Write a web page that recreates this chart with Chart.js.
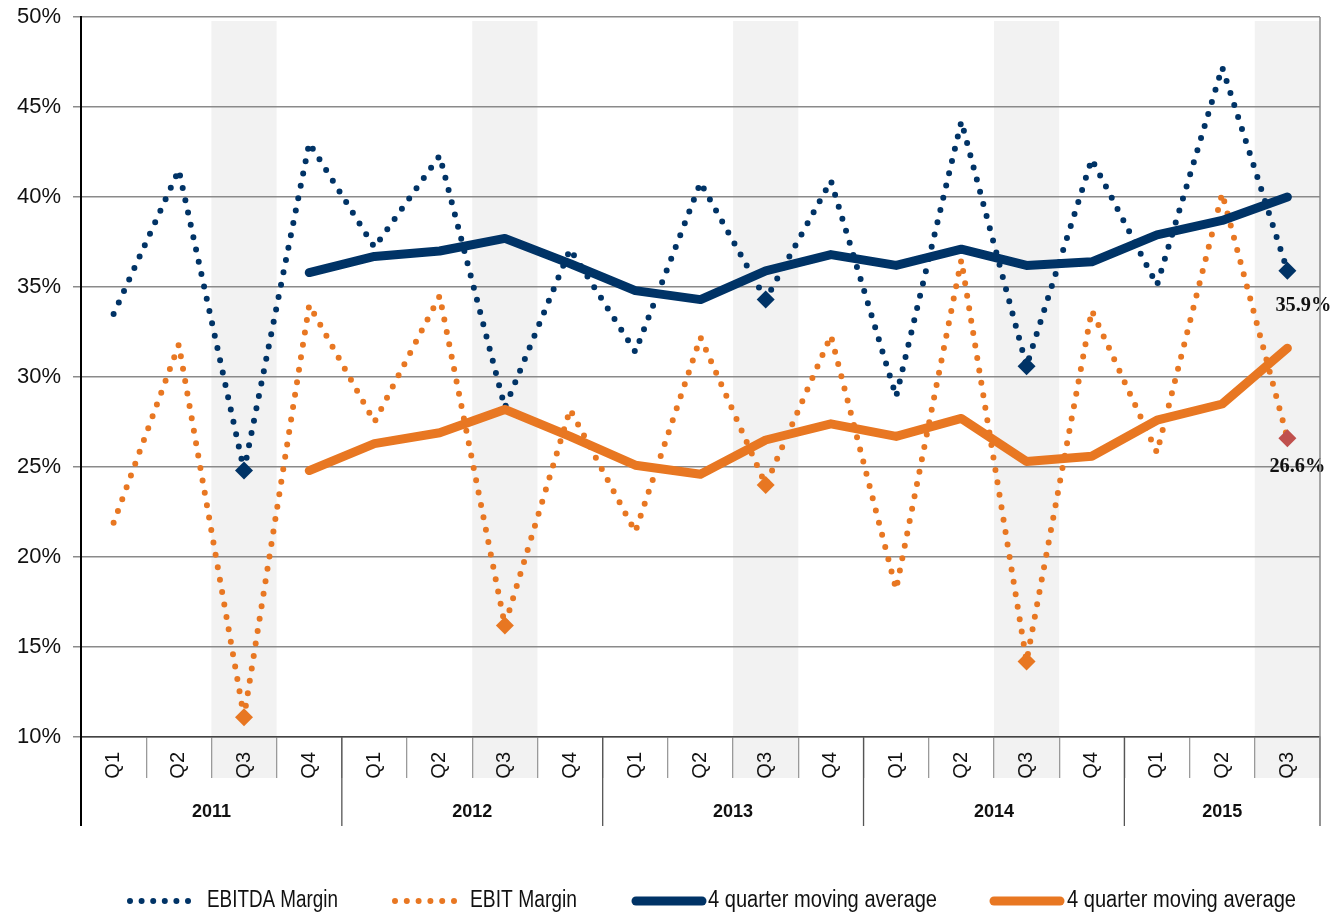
<!DOCTYPE html>
<html>
<head>
<meta charset="utf-8">
<script src="https://cdn.jsdelivr.net/npm/chart.js@4.4.0/dist/chart.umd.min.js"></script>
<style>
  html, body { margin: 0; padding: 0; background: #ffffff; }
  #wrap { width: 1334px; height: 914px; position: relative; }
</style>
</head>
<body>
<div id="wrap"><canvas id="chart" width="1334" height="914"></canvas></div>
<script>
// Quarterly margins, 2011 Q1 – 2015 Q3 (percent)
const quarters = ['Q1','Q2','Q3','Q4','Q1','Q2','Q3','Q4','Q1','Q2','Q3','Q4','Q1','Q2','Q3','Q4','Q1','Q2','Q3'];
const years = ['2011', '2012', '2013', '2014', '2015'];
const quartersPerYear = [4, 4, 4, 4, 3];

const ebitdaMargin = [33.5, 41.5, 24.8, 43.0, 37.2, 42.3, 28.3, 37.1, 31.4, 40.8, 34.3, 40.9, 28.9, 44.2, 30.6, 42.1, 35.1, 47.2, 35.9];
const ebitMargin   = [21.9, 31.8, 11.1, 34.0, 27.5, 34.5, 16.2, 28.2, 21.4, 32.2, 24.0, 32.3, 18.2, 36.5, 14.2, 33.7, 25.8, 40.2, 26.6];
const ebitdaMovingAvg = [null, null, null, 35.8, 36.7, 37.0, 37.7, 36.3, 34.8, 34.3, 35.9, 36.8, 36.2, 37.1, 36.2, 36.4, 37.9, 38.7, 40.0];
const ebitMovingAvg   = [null, null, null, 24.8, 26.3, 26.9, 28.2, 26.7, 25.1, 24.6, 26.5, 27.4, 26.7, 27.7, 25.3, 25.6, 27.6, 28.5, 31.6];

// Points highlighted with a diamond marker
const ebitdaMarked = [2, 10, 14, 18];
const ebitMarked = [2, 6, 10, 14, 18];

const seriesNames = ['EBITDA Margin', 'EBIT Margin', '4 quarter moving average', '4 quarter moving average'];
const yMin = 10, yMax = 50, yStep = 5;

const NAVY = '#003366';
const ORANGE = '#e87722';
const RED = '#c0504d';
const SHADE = '#f2f2f2';

const markerRadius = (list) => (ctx) => list.includes(ctx.dataIndex) ? 9 : 0;
const lastIndex = quarters.length - 1;

// Light bands behind every Q3 column, reaching into the quarter label row
const q3Bands = {
  id: 'q3Bands',
  beforeDraw(chart) {
    const { ctx, chartArea, scales: { x } } = chart;
    const half = (x.getPixelForValue(1) - x.getPixelForValue(0)) / 2;
    ctx.save();
    ctx.fillStyle = SHADE;
    quarters.forEach((q, i) => {
      if (q !== 'Q3') return;
      const cx = x.getPixelForValue(i);
      ctx.fillRect(cx - half, chartArea.top + 4, half * 2, x.top + 41 - chartArea.top - 4);
    });
    ctx.restore();
  }
};

// Year row under the quarter labels, plus frame lines
const yearAxis = {
  id: 'yearAxis',
  afterDraw(chart) {
    const { ctx, chartArea, scales: { x } } = chart;
    const half = (x.getPixelForValue(1) - x.getPixelForValue(0)) / 2;
    const rowBottom = x.top + 89;
    ctx.save();
    // right frame of the plot
    ctx.strokeStyle = '#8a8a8a';
    ctx.lineWidth = 1.5;
    ctx.beginPath();
    ctx.moveTo(chartArea.right, chartArea.top);
    ctx.lineTo(chartArea.right, rowBottom);
    ctx.stroke();
    let start = 0;
    ctx.font = 'bold 18px "Liberation Sans", Arial, sans-serif';
    ctx.fillStyle = '#111';
    ctx.textAlign = 'center';
    ctx.textBaseline = 'middle';
    const edges = [x.getPixelForValue(0) - half];
    years.forEach((yr, k) => {
      const end = start + quartersPerYear[k] - 1;
      const left = x.getPixelForValue(start) - half;
      const right = x.getPixelForValue(end) + half;
      edges.push(right);
      ctx.fillText(yr, (left + right) / 2, x.top + 75);
      start = end + 1;
    });
    edges.forEach((ex, k) => {
      ctx.strokeStyle = k === 0 ? '#000' : (k === edges.length - 1 ? '#8a8a8a' : '#555');
      ctx.lineWidth = k === 0 ? 2 : 1.3;
      ctx.beginPath();
      ctx.moveTo(ex, x.top);
      ctx.lineTo(ex, rowBottom);
      ctx.stroke();
    });
    ctx.restore();
  }
};

// Value labels for the latest quarter
const latestLabels = {
  id: 'latestLabels',
  afterDatasetsDraw(chart) {
    const { ctx, scales: { x, y } } = chart;
    const px = x.getPixelForValue(lastIndex);
    const items = [
      { v: ebitdaMargin[lastIndex], dx: 16, dy: 35 },
      { v: ebitMargin[lastIndex], dx: 10, dy: 28 }
    ];
    ctx.save();
    ctx.font = 'bold 21px "Liberation Serif", "DejaVu Serif", serif';
    ctx.fillStyle = '#111';
    ctx.textAlign = 'center';
    ctx.textBaseline = 'middle';
    items.forEach(it => ctx.fillText(it.v.toFixed(1) + '%', px + it.dx, y.getPixelForValue(it.v) + it.dy, 56));
    ctx.restore();
  }
};

// Legend row with line samples in each series' own stroke style
const legendRow = {
  id: 'legendRow',
  afterDraw(chart) {
    const { ctx } = chart;
    const rowY = 901;
    const layout = [
      { x0: 130, x1: 199, tx: 207, w: 131, dash: [0, 11.6] },
      { x0: 395, x1: 455, tx: 470, w: 107, dash: [0, 11.8] },
      { x0: 636, x1: 702, tx: 708, w: 229, dash: [] },
      { x0: 994, x1: 1060, tx: 1067, w: 229, dash: [] }
    ];
    ctx.save();
    chart.data.datasets.forEach((ds, i) => {
      const L = layout[i];
      ctx.strokeStyle = ds.borderColor;
      ctx.lineWidth = ds.borderWidth;
      ctx.lineCap = 'round';
      ctx.setLineDash(L.dash);
      ctx.beginPath();
      ctx.moveTo(L.x0, rowY);
      ctx.lineTo(L.x1, rowY);
      ctx.stroke();
      ctx.setLineDash([]);
      ctx.font = '23px "Liberation Sans", Arial, sans-serif';
      ctx.fillStyle = '#111';
      ctx.textAlign = 'left';
      ctx.textBaseline = 'middle';
      // narrow setting: squeeze each caption into its column width
      ctx.fillText(ds.label, L.tx, rowY, L.w);
    });
    ctx.restore();
  }
};

const dottedSeries = (label, data, color, marked, markerColor) => ({
  type: 'line',
  label,
  data,
  borderColor: color,
  backgroundColor: color,
  borderWidth: 6,
  borderDash: [0, 12.6],
  borderCapStyle: 'round',
  borderJoinStyle: 'round',
  tension: 0,
  pointStyle: 'rectRot',
  pointRadius: markerRadius(marked),
  pointHoverRadius: markerRadius(marked),
  pointBackgroundColor: markerColor,
  pointBorderWidth: 0,
  clip: false,
  order: 1
});

const solidSeries = (label, data, color) => ({
  type: 'line',
  label,
  data,
  borderColor: color,
  backgroundColor: color,
  borderWidth: 9,
  borderCapStyle: 'round',
  borderJoinStyle: 'round',
  tension: 0,
  pointRadius: 0,
  pointHoverRadius: 0,
  clip: false,
  order: 0
});

new Chart(document.getElementById('chart'), {
  type: 'line',
  data: {
    labels: quarters,
    datasets: [
      dottedSeries(seriesNames[0], ebitdaMargin, NAVY, ebitdaMarked,
        ebitdaMargin.map(() => NAVY)),
      dottedSeries(seriesNames[1], ebitMargin, ORANGE, ebitMarked,
        ebitMargin.map((v, i) => i === lastIndex ? RED : ORANGE)),
      solidSeries(seriesNames[2], ebitdaMovingAvg, NAVY),
      solidSeries(seriesNames[3], ebitMovingAvg, ORANGE)
    ]
  },
  options: {
    responsive: false,
    devicePixelRatio: 1,
    animation: false,
    events: [],
    layout: { padding: { top: 17, right: 14, bottom: 88, left: 0 } },
    plugins: {
      legend: { display: false },
      tooltip: { enabled: false }
    },
    scales: {
      x: {
        type: 'category',
        offset: true,
        grid: {
          offset: true,
          drawOnChartArea: false,
          drawTicks: true,
          tickLength: 41,
          color: '#9a9a9a',
          lineWidth: 1.3
        },
        border: { display: true, color: '#444', width: 1.5 },
        ticks: {
          autoSkip: false,
          minRotation: 90,
          maxRotation: 90,
          padding: -26,
          color: '#111',
          font: { family: '"Liberation Sans", Arial, sans-serif', size: 20 }
        },
        afterFit(scale) { scale.height = 89; }
      },
      y: {
        min: yMin,
        max: yMax,
        grid: {
          color: '#8a8a8a',
          lineWidth: 1.5,
          drawTicks: true,
          tickLength: 8
        },
        border: { display: true, color: '#000', width: 2 },
        ticks: {
          stepSize: yStep,
          padding: 12,
          color: '#111',
          font: { family: '"Liberation Sans", Arial, sans-serif', size: 22 },
          callback: (v) => v + '%'
        },
        afterFit(scale) {
          scale.width = 81;
          scale.paddingTop = 0;
          scale.paddingBottom = 0;
        }
      }
    }
  },
  plugins: [q3Bands, yearAxis, latestLabels, legendRow]
});
</script>
</body>
</html>
